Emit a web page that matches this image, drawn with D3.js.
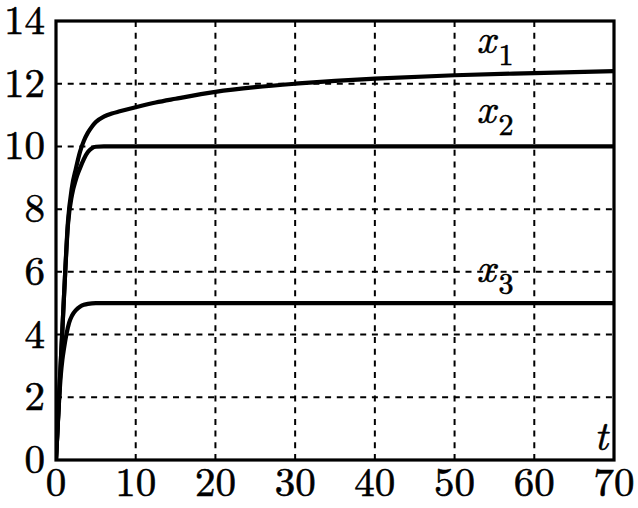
<!DOCTYPE html>
<html><head><meta charset="utf-8">
<script src="https://cdn.jsdelivr.net/npm/d3@7"></script>
<style>html,body{margin:0;padding:0;background:#fff;}svg{display:block;}</style>
</head><body>
<svg id="chart" width="638" height="508"></svg>
<script>
const xTicks = [0, 10, 20, 30, 40, 50, 60, 70];
const yTicks = [0, 2, 4, 6, 8, 10, 12, 14];

const x1T = [0, 0.5, 1, 1.5, 2, 2.5, 3, 3.5, 4, 4.5, 5, 6, 7, 8, 10, 12.5, 15, 20, 25, 30, 35, 40, 50, 60, 70];
const x1V = [0, 2.6, 5.2, 7.6, 8.7, 9.3, 9.82, 10.18, 10.44, 10.63, 10.78, 10.95, 11.05, 11.12, 11.25, 11.4, 11.52, 11.74, 11.89, 12.0, 12.09, 12.16, 12.27, 12.34, 12.4];

const x2T = [0, 0.5, 1, 1.5, 2, 2.5, 3, 3.5, 4, 4.5, 5, 6, 70];
const x2V = [0, 2.6, 5.2, 7.5, 8.45, 8.95, 9.3, 9.6, 9.82, 9.94, 9.99, 10, 10];

const x3T = [0, 0.3, 0.6, 0.8, 1.0, 1.3, 1.65, 2, 2.5, 3, 3.5, 4, 5, 70];
const x3V = [0, 1.5, 2.7, 3.2, 3.55, 4.0, 4.38, 4.6, 4.78, 4.89, 4.95, 4.98, 5, 5];

const seriesNames = ["1", "2", "3"];
const seriesLabelT = [50, 50, 50];
const seriesLabelV = [12.98, 10.75, 5.68];

const FONT = '"Latin Modern Roman", "Liberation Serif", monospace';

const svg = d3.select("#chart");
const L = 56, R = 614, T = 21, B = 460;
const x = d3.scaleLinear().domain([0, 70]).range([L, R]);
const y = d3.scaleLinear().domain([0, 14]).range([B, T]);

// grid
const grid = svg.append("g");
grid.selectAll("line.gx").data(xTicks.filter(d => d > 0 && d < 70)).enter().append("line")
  .attr("x1", d => x(d)).attr("x2", d => x(d)).attr("y1", B).attr("y2", T)
  .attr("stroke", "#000").attr("stroke-width", 2).attr("stroke-dasharray", "6,5.7");
grid.selectAll("line.gy").data(yTicks.filter(d => d > 0 && d < 14)).enter().append("line")
  .attr("y1", d => y(d)).attr("y2", d => y(d)).attr("x1", L).attr("x2", R)
  .attr("stroke", "#000").attr("stroke-width", 2).attr("stroke-dasharray", "6,5.7");

// clip
svg.append("clipPath").attr("id", "clip").append("rect")
  .attr("x", L).attr("y", T).attr("width", R - L).attr("height", B - T);

const line = d3.line().x(d => x(d[0])).y(d => y(d[1])).curve(d3.curveMonotoneX);
const series = [d3.zip(x1T, x1V), d3.zip(x2T, x2V), d3.zip(x3T, x3V)];
svg.append("g").attr("clip-path", "url(#clip)").selectAll("path").data(series).enter().append("path")
  .attr("d", line).attr("fill", "none").attr("stroke", "#000").attr("stroke-width", 4.2)
  .attr("stroke-linejoin", "round").attr("stroke-linecap", "round");

// frame
svg.append("rect").attr("x", L).attr("y", T).attr("width", R - L).attr("height", B - T)
  .attr("fill", "none").attr("stroke", "#000").attr("stroke-width", 3.2);

// x tick labels
svg.append("g").selectAll("text").data(xTicks).enter().append("text")
  .attr("x", d => x(d)).attr("y", 496).attr("text-anchor", "middle")
  .style("font-family", FONT).style("font-size", "41px")
  .style("stroke", "#000").style("stroke-width", "0.6px").text(d => d);
// y tick labels
svg.append("g").selectAll("text").data(yTicks).enter().append("text")
  .attr("x", 45).attr("y", d => y(d) + 13).attr("text-anchor", "end")
  .style("font-family", FONT).style("font-size", "41px")
  .style("stroke", "#000").style("stroke-width", "0.6px").text(d => d);

// series labels
const lab = svg.append("g").selectAll("text").data(seriesNames).enter().append("text")
  .style("font-family", FONT).style("font-size", "41px")
  .style("stroke", "#000").style("stroke-width", "0.6px")
  .attr("x", (d, i) => x(seriesLabelT[i]) + 22)
  .attr("y", (d, i) => y(seriesLabelV[i]));
lab.append("tspan").style("font-style", "italic").text("x");
lab.append("tspan").style("font-size", "30px").attr("dx", 3).attr("dy", 12).text(d => d);

// axis title t
svg.append("text").attr("x", 601).attr("y", 450).attr("text-anchor", "middle")
  .style("font-family", FONT).style("font-style", "italic").style("font-size", "41px")
  .style("stroke", "#000").style("stroke-width", "0.6px").text("t");
</script>
</body></html>
